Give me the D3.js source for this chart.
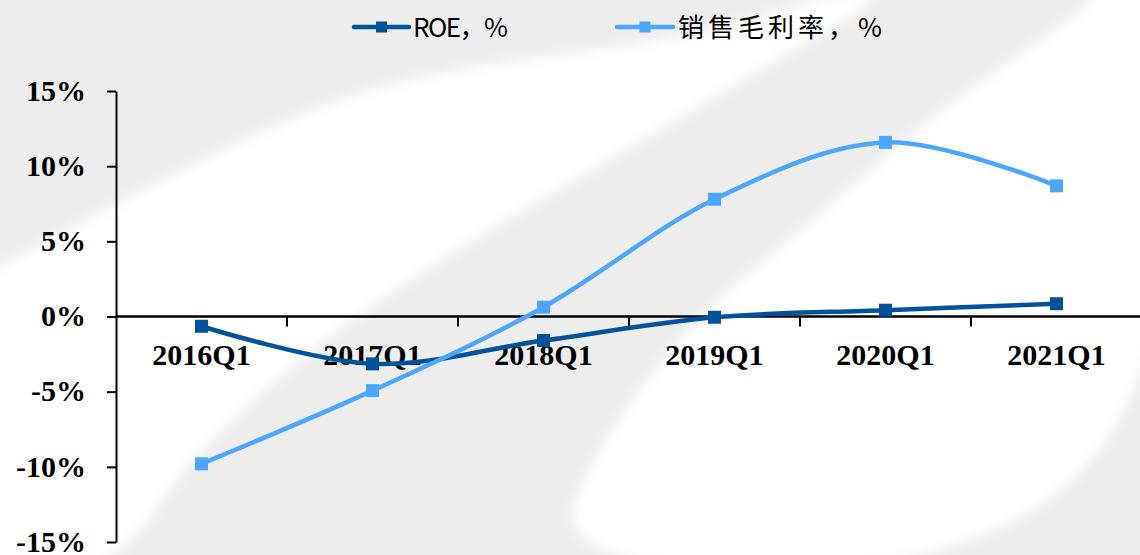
<!DOCTYPE html>
<html>
<head>
<meta charset="utf-8">
<script src="https://cdn.jsdelivr.net/npm/d3@7/dist/d3.min.js"></script>
<style>
  html, body { margin: 0; padding: 0; background: #fff; }
  svg { display: block; }
</style>
</head>
<body>
<svg id="chart" width="1140" height="555"></svg>
<script>
// Quarterly categories and series (percent)
const categories = ["2016Q1", "2017Q1", "2018Q1", "2019Q1", "2020Q1", "2021Q1"];
const roe = [-0.65, -3.15, -1.6, -0.05, 0.42, 0.85];
const grossMargin = [-9.8, -4.93, 0.62, 7.8, 11.58, 8.69];
const yTicks = [-15, -10, -5, 0, 5, 10, 15];
const seriesNames = ["ROE，%", "销售毛利率，%"];

const W = 1140, H = 555;
const margin = { left: 116 };
const colors = ["#00529b", "#4aa6ff"];

const svg = d3.select("#chart");

// Soft diagonal watermark bands behind the chart
const defs = svg.append("defs");
defs.append("filter").attr("id", "soft")
  .attr("filterUnits", "userSpaceOnUse")
  .attr("x", -100).attr("y", -100).attr("width", W + 200).attr("height", H + 200)
  .append("feGaussianBlur").attr("stdDeviation", 6);

svg.append("rect").attr("width", W).attr("height", H).attr("fill", "#ededed");
const bg = svg.append("g").attr("filter", "url(#soft)").attr("fill", "#ffffff");
const smooth = d3.line().curve(d3.curveBasis);
const bandB = [[-40, 290], [0, 266], [109, 207], [250, 135], [364, 88], [480, 64], [600, 50],
  [720, 30], [840, -10], [900, -10], [800, 45], [700, 107], [483, 233], [345, 320],
  [215, 433], [160, 500], [115, 575], [-40, 575]];
bg.append("path").attr("d", smooth(bandB) + "Z");
const bandD = [[1100, -30], [1100, 0], [1000, 67], [910, 133], [800, 233], [700, 310],
  [630, 400], [580, 480], [545, 580], [1180, 580], [1180, -30]];
bg.append("path").attr("d", smooth(bandD) + "Z");

// Scales
const x = d3.scaleBand().domain(categories).range([margin.left, 1142]).padding(0);
const y = d3.scaleLinear().domain([-15, 15]).range([542, 91]);
const cx = c => x(c) + x.bandwidth() / 2;

// Y axis
const yAxis = svg.append("g")
  .attr("transform", `translate(${margin.left},0)`)
  .call(d3.axisLeft(y).tickValues(yTicks).tickSize(9).tickSizeOuter(0).tickFormat(d => d + "%"));
yAxis.select(".domain").attr("stroke", "#000").attr("stroke-width", 2);
yAxis.selectAll(".tick line").attr("stroke", "#000").attr("stroke-width", 2);
yAxis.selectAll(".tick text")
  .attr("x", -30).attr("dy", "0.31em")
  .attr("fill", "#000")
  .style("font-family", "'Liberation Serif', 'Times New Roman', serif")
  .style("font-weight", "bold").style("font-size", "30px");

// X axis along zero line, ticks on category boundaries
const xAxisG = svg.append("g").attr("transform", `translate(0,${y(0)})`);
xAxisG.append("line").attr("x1", margin.left).attr("x2", W)
  .attr("stroke", "#000").attr("stroke-width", 2.5);
xAxisG.selectAll("line.tk").data(categories.slice(1)).join("line")
  .attr("class", "tk")
  .attr("x1", d => x(d)).attr("x2", d => x(d))
  .attr("y1", 0).attr("y2", 10)
  .attr("stroke", "#000").attr("stroke-width", 2);
xAxisG.selectAll("text").data(categories).join("text")
  .attr("x", d => cx(d)).attr("y", 48)
  .attr("text-anchor", "middle").attr("fill", "#000")
  .style("font-family", "'Liberation Serif', 'Times New Roman', serif")
  .style("font-weight", "bold").style("font-size", "30px")
  .text(d => d);

// Series
const line = d3.line().curve(d3.curveCardinal.tension(0))
  .x((d, i) => cx(categories[i])).y(d => y(d));
[roe, grossMargin].forEach((vals, k) => {
  const g = svg.append("g");
  g.append("path").attr("d", line(vals))
    .attr("fill", "none").attr("stroke", colors[k]).attr("stroke-width", 4.5)
    .attr("stroke-linejoin", "round").attr("stroke-linecap", "round");
  g.selectAll("rect").data(vals).join("rect")
    .attr("x", (d, i) => cx(categories[i]) - 6.5)
    .attr("y", d => y(d) - 6.5)
    .attr("width", 13).attr("height", 13)
    .attr("fill", colors[k]);
});

// Legend
const legend = [
  { x0: 354, x1: 409, tx: 413, tl: 95 },
  { x0: 617, x1: 673, tx: 678, tl: 204 }
];
legend.forEach((l, k) => {
  const g = svg.append("g");
  g.append("line").attr("x1", l.x0).attr("x2", l.x1).attr("y1", 27).attr("y2", 27)
    .attr("stroke", colors[k]).attr("stroke-width", 4.5).attr("stroke-linecap", "round");
  g.append("rect").attr("x", (l.x0 + l.x1) / 2 - 5.5).attr("y", 21.5)
    .attr("width", 11).attr("height", 11).attr("fill", colors[k]);
  g.append("text").attr("x", l.tx).attr("y", 37)
    .attr("textLength", l.tl).attr("lengthAdjust", "spacing")
    .attr("fill", "#000")
    .style("font-family", "'Noto Sans CJK SC', sans-serif")
    .style("font-size", "26px")
    .text(seriesNames[k]);
});
</script>
</body>
</html>
